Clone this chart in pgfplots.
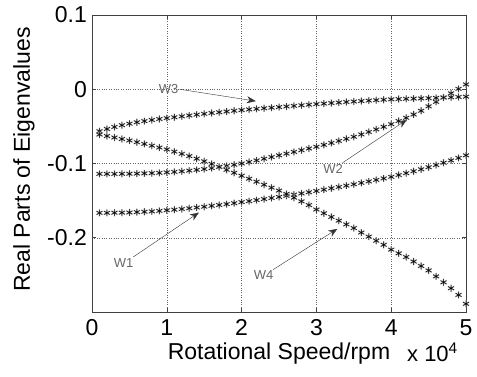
\documentclass[border=0pt]{standalone}
\usepackage{pgfplots}
\pgfplotsset{compat=1.18}
\usepackage{pgfplotstable}
\usepackage{fontspec}
\setmainfont{Liberation Sans}
\usetikzlibrary{arrows.meta}
\pgfplotstableread{
x w1 w2 w3 w4
0.1 -0.1665 -0.1140 -0.0565 -0.0610
0.2 -0.1665 -0.1140 -0.0535 -0.0630
0.3 -0.1663 -0.1140 -0.0508 -0.0650
0.4 -0.1662 -0.1139 -0.0484 -0.0670
0.5 -0.1660 -0.1138 -0.0463 -0.0690
0.6 -0.1655 -0.1136 -0.0445 -0.0713
0.7 -0.1650 -0.1133 -0.0429 -0.0736
0.8 -0.1645 -0.1130 -0.0414 -0.0760
0.9 -0.1638 -0.1126 -0.0401 -0.0785
1.0 -0.1630 -0.1120 -0.0389 -0.0810
1.1 -0.1622 -0.1113 -0.0377 -0.0840
1.2 -0.1613 -0.1105 -0.0365 -0.0870
1.3 -0.1603 -0.1096 -0.0353 -0.0900
1.4 -0.1593 -0.1086 -0.0342 -0.0935
1.5 -0.1582 -0.1075 -0.0331 -0.0970
1.6 -0.1570 -0.1062 -0.0320 -0.1005
1.7 -0.1559 -0.1048 -0.0310 -0.1045
1.8 -0.1547 -0.1033 -0.0300 -0.1085
1.9 -0.1534 -0.1017 -0.0290 -0.1125
2.0 -0.1520 -0.1000 -0.0281 -0.1165
2.1 -0.1507 -0.0980 -0.0272 -0.1205
2.2 -0.1493 -0.0958 -0.0264 -0.1245
2.3 -0.1479 -0.0936 -0.0256 -0.1285
2.4 -0.1465 -0.0913 -0.0248 -0.1325
2.5 -0.1450 -0.0890 -0.0240 -0.1365
2.6 -0.1435 -0.0867 -0.0232 -0.1410
2.7 -0.1419 -0.0844 -0.0224 -0.1460
2.8 -0.1403 -0.0821 -0.0216 -0.1510
2.9 -0.1387 -0.0798 -0.0208 -0.1560
3.0 -0.1370 -0.0775 -0.0200 -0.1620
3.1 -0.1352 -0.0749 -0.0193 -0.1670
3.2 -0.1334 -0.0723 -0.0186 -0.1720
3.3 -0.1316 -0.0696 -0.0179 -0.1770
3.4 -0.1298 -0.0668 -0.0172 -0.1820
3.5 -0.1280 -0.0640 -0.0165 -0.1870
3.6 -0.1261 -0.0608 -0.0159 -0.1930
3.7 -0.1241 -0.0575 -0.0153 -0.1985
3.8 -0.1221 -0.0541 -0.0147 -0.2040
3.9 -0.1201 -0.0506 -0.0141 -0.2095
4.0 -0.1180 -0.0470 -0.0136 -0.2160
4.1 -0.1155 -0.0428 -0.0132 -0.2210
4.2 -0.1130 -0.0385 -0.0129 -0.2260
4.3 -0.1104 -0.0340 -0.0126 -0.2320
4.4 -0.1078 -0.0290 -0.0123 -0.2380
4.5 -0.1050 -0.0230 -0.0120 -0.2440
4.6 -0.1020 -0.0170 -0.0116 -0.2520
4.7 -0.0990 -0.0110 -0.0112 -0.2600
4.8 -0.0958 -0.0055 -0.0108 -0.2680
4.9 -0.0925 0.0005 -0.0104 -0.2770
5.0 -0.0890 0.0065 -0.0100 -0.2890
}\data
\begin{document}
\begin{tikzpicture}
\begin{axis}[
  name=ax,
  scale only axis,
  width=374pt, height=297pt,
  xmin=0, xmax=5, ymin=-0.3, ymax=0.1,
  xtick={0,1,2,3,4,5},
  ytick={-0.2,-0.1,0,0.1},
  yticklabels={-0.2,-0.1,0,0.1},
  xticklabels={0,1,2,3,4,5},
  /pgf/number format/assume math mode=true,
  tick label style={font=\fontsize{23}{26}\selectfont, black},
  xticklabel style={inner sep=0pt, anchor=north, yshift=-7pt},
  yticklabel style={inner sep=0pt, anchor=east, xshift=-5pt},
  label style={font=\fontsize{23}{26}\selectfont, black},
  xlabel={Rotational Speed/rpm},
  ylabel={Real Parts of Eigenvalues},
  xlabel style={at={(rel axis cs:0.5,0)}, anchor=base, inner sep=0pt, yshift=-47pt},
  ylabel style={at={(rel axis cs:0,0.5)}, anchor=center, inner sep=0pt, yshift=68pt, xshift=4pt},
  grid=major,
  grid style={black!60, dotted, line width=0.4pt},
  axis line style={black!75, line width=0.6pt},
  tick style={black!75, line width=0.5pt},
  tick align=inside,
  major tick length=4pt,
  xtick pos=both, ytick pos=both,
  clip=false,
]
\foreach \c in {w1,w2,w3,w4}{
  \addplot[only marks, mark=asterisk, mark size=3.6pt, black!35, line width=1.3pt] table[x=x, y=\c] {\data};
  \addplot[only marks, mark=asterisk, mark size=3.3pt, black, line width=0.5pt] table[x=x, y=\c] {\data};
}
\draw[black!80, line width=0.4pt, -{Stealth[length=9pt,width=7pt]}] (axis cs:1.17,0.0) -- (axis cs:2.19,-0.016);
\node[anchor=east, text=black!60, font=\fontsize{13}{15}\selectfont, inner sep=1pt] at (axis cs:1.17,0.0) {W3};
\draw[black!80, line width=0.4pt, -{Stealth[length=9pt,width=7pt]}] (axis cs:3.35,-0.099) -- (axis cs:4.21,-0.041);
\node[anchor=north east, text=black!60, font=\fontsize{13}{15}\selectfont, inner sep=1pt] at (axis cs:3.37,-0.099) {W2};
\draw[black!80, line width=0.4pt, -{Stealth[length=9pt,width=7pt]}] (axis cs:0.55,-0.226) -- (axis cs:1.43,-0.166);
\node[anchor=north east, text=black!60, font=\fontsize{13}{15}\selectfont, inner sep=1pt] at (axis cs:0.57,-0.226) {W1};
\draw[black!80, line width=0.4pt, -{Stealth[length=9pt,width=7pt]}] (axis cs:2.42,-0.243) -- (axis cs:3.28,-0.188);
\node[anchor=north east, text=black!60, font=\fontsize{13}{15}\selectfont, inner sep=1pt] at (axis cs:2.44,-0.243) {W4};
\node[anchor=base east, font=\fontsize{22}{25}\selectfont, inner sep=0pt] at ([xshift=-8pt,yshift=-49pt]rel axis cs:1,0) {x 10\textsuperscript{4}};
\end{axis}
\path ([xshift=-92pt,yshift=-64pt]ax.south west) ([xshift=11pt,yshift=15pt]ax.north east);
\end{tikzpicture}
\end{document}
